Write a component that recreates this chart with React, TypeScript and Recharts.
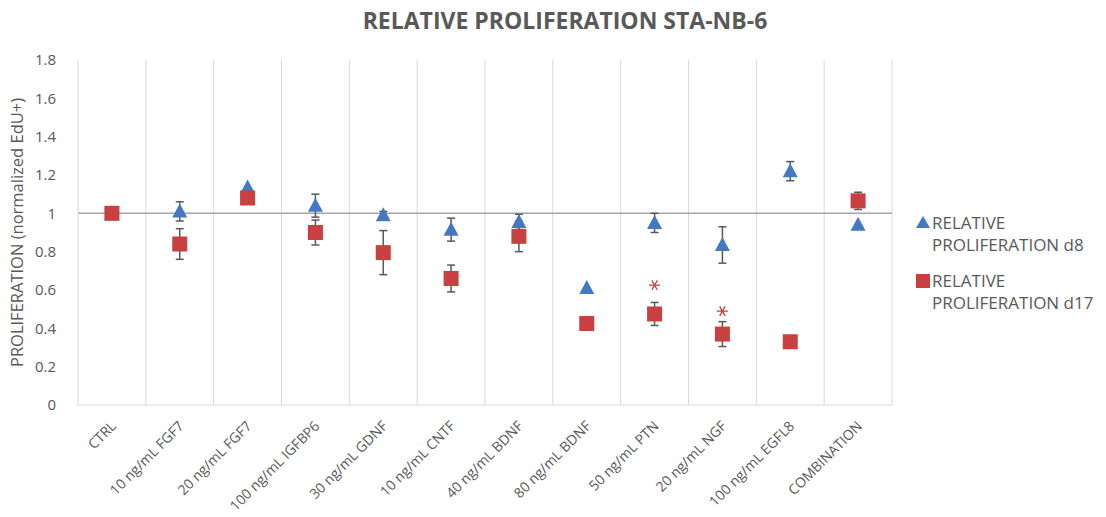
import React from 'react';
import {
  ScatterChart, Scatter, XAxis, YAxis, ErrorBar, ReferenceLine,
} from 'recharts';

const categories = [
  'CTRL', '10 ng/mL FGF7', '20 ng/mL FGF7', '100 ng/mL IGFBP6', '30 ng/mL GDNF',
  '10 ng/mL CNTF', '40 ng/mL BDNF', '80 ng/mL BDNF', '50 ng/mL PTN', '20 ng/mL NGF',
  '100 ng/mL EGFL8', 'COMBINATION',
];
const d8 = [1.0, 1.01, 1.135, 1.04, 0.99, 0.915, 0.955, 0.61, 0.95, 0.835, 1.22, 0.94];
const d8Err = [0, 0.05, 0, 0.06, 0.02, 0.06, 0.04, 0, 0.05, 0.095, 0.05, 0];
const d17 = [1.0, 0.84, 1.08, 0.9, 0.795, 0.66, 0.88, 0.425, 0.475, 0.37, 0.33, 1.065];
const d17Err = [0, 0.08, 0, 0.065, 0.115, 0.07, 0.08, 0, 0.06, 0.065, 0, 0.045];
const significance = [null, null, null, null, null, null, null, null, 0.625, 0.49, null, null];
const yTicks = [0, 0.2, 0.4, 0.6, 0.8, 1, 1.2, 1.4, 1.6, 1.8];

const BLUE = '#4479c2';
const RED = '#c8403f';
const TEXT = '#595959';
const FONT = "'Open Sans', sans-serif";

const rows = categories.map((name, i) => ({
  x: i + 0.5,
  name,
  d8: d8[i],
  d8Err: d8Err[i],
  d17: d17[i],
  d17Err: d17Err[i],
  star: significance[i],
}));
const starRows = rows.filter((r) => r.star !== null);
const centerTicks = categories.map((_, i) => i + 0.5);
const boundaries = categories.map((_, i) => i + 1);

const Triangle = (props: any) => {
  const { cx, cy } = props;
  return <path d={`M${cx},${cy - 8} L${cx + 7.5},${cy + 6} L${cx - 7.5},${cy + 6} Z`} fill={BLUE} />;
};
const Square = (props: any) => {
  const { cx, cy } = props;
  return <rect x={cx - 7.5} y={cy - 7.5} width={15} height={15} fill={RED} />;
};
const Asterisk = (props: any) => {
  const { cx, cy } = props;
  const r = 5.5;
  const lines = [0, 60, 120].map((a) => {
    const rad = (a * Math.PI) / 180;
    const dx = r * Math.cos(rad);
    const dy = r * Math.sin(rad);
    return <line key={a} x1={cx - dx} y1={cy - dy} x2={cx + dx} y2={cy + dy} stroke={RED} strokeWidth={1.3} />;
  });
  return <g>{lines}</g>;
};

const XTick = (props: any) => {
  const { x, y, payload } = props;
  const idx = Math.round(payload.value - 0.5);
  const ax = x + 5;
  const ay = y + 14;
  return (
    <text
      x={ax}
      y={ay}
      transform={`rotate(-45 ${ax} ${ay})`}
      textAnchor="end"
      fill={TEXT}
      fontSize={14}
      fontFamily={FONT}
    >
      {categories[idx]}
    </text>
  );
};

const LegendBlock = () => (
  <div
    style={{
      position: 'absolute', left: 914, top: 212, width: 192,
      fontFamily: FONT, fontSize: 17, color: TEXT, lineHeight: '22px', whiteSpace: 'nowrap',
    }}
  >
    <div style={{ display: 'flex', alignItems: 'flex-start' }}>
      <svg width={18} height={22} style={{ flex: 'none' }}>
        <path d="M9,4 L16,16 L2,16 Z" fill={BLUE} />
      </svg>
      <div>RELATIVE<br />PROLIFERATION d8</div>
    </div>
    <div style={{ display: 'flex', alignItems: 'flex-start', marginTop: 14 }}>
      <svg width={18} height={22} style={{ flex: 'none' }}>
        <rect x={2} y={4} width={14} height={14} fill={RED} />
      </svg>
      <div>RELATIVE<br />PROLIFERATION d17</div>
    </div>
  </div>
);

export default function App() {
  return (
    <div style={{ position: 'absolute', left: 0, top: 0, width: 1106, height: 517, background: '#fff' }}>
      <div
        style={{
          position: 'absolute', left: 12, top: 4, width: 1106, textAlign: 'center',
          fontFamily: FONT, fontWeight: 700, fontSize: 23, color: TEXT,
        }}
      >
        RELATIVE PROLIFERATION STA-NB-6
      </div>
      <ScatterChart width={1106} height={517} margin={{ top: 60, right: 214, bottom: 0, left: 0 }}>
        <XAxis
          type="number"
          dataKey="x"
          domain={[0, 12]}
          ticks={centerTicks}
          tick={<XTick />}
          tickLine={false}
          axisLine={{ stroke: '#d9d9d9' }}
          height={112}
          interval={0}
        />
        <YAxis
          type="number"
          domain={[0, 1.8]}
          ticks={yTicks}
          width={78}
          tickLine={false}
          axisLine={{ stroke: '#d9d9d9' }}
          tick={{ fill: TEXT, fontSize: 15, fontFamily: FONT }}
          tickMargin={16}
          label={{
            value: 'PROLIFERATION (normalized EdU+)', angle: -90, position: 'insideLeft',
            offset: 17, style: { fill: TEXT, fontSize: 16.5, fontFamily: FONT, textAnchor: 'middle' },
          }}
        />
        {boundaries.map((b) => (
          <ReferenceLine key={b} x={b} stroke="#d9d9d9" strokeWidth={1} />
        ))}
        <ReferenceLine y={1} stroke="#a6a6a6" strokeWidth={1.5} />
        <Scatter name="RELATIVE PROLIFERATION d8" data={rows} dataKey="d8" shape={<Triangle />} isAnimationActive={false}>
          <ErrorBar dataKey="d8Err" direction="y" width={4} stroke={TEXT} strokeWidth={1.5} />
        </Scatter>
        <Scatter name="RELATIVE PROLIFERATION d17" data={rows} dataKey="d17" shape={<Square />} isAnimationActive={false}>
          <ErrorBar dataKey="d17Err" direction="y" width={4} stroke={TEXT} strokeWidth={1.5} />
        </Scatter>
        <Scatter data={starRows} dataKey="star" shape={<Asterisk />} isAnimationActive={false} legendType="none" />
      </ScatterChart>
      <LegendBlock />
    </div>
  );
}
